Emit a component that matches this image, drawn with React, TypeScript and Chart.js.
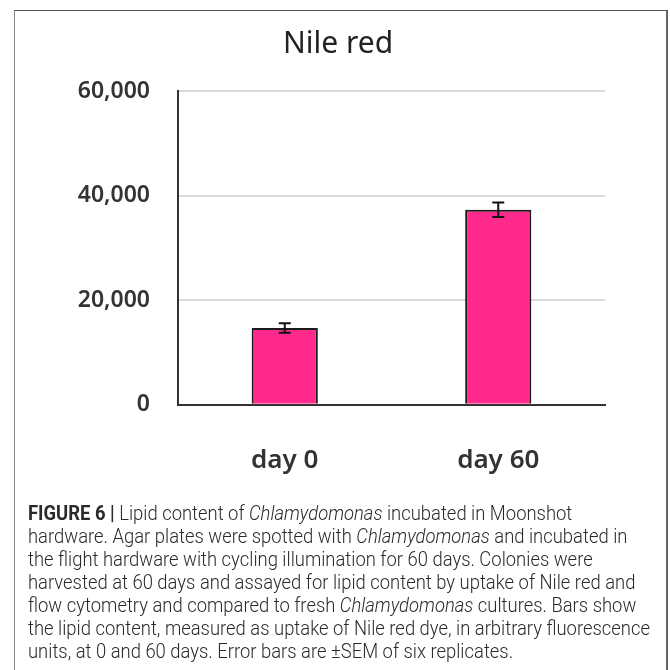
import React, { useEffect, useLayoutEffect, useRef, useState } from "react";
import { Chart, registerables } from "chart.js";

Chart.register(...registerables);

const categories = ["day 0", "day 60"];
const values = [14700, 37300];
const errors = [900, 1400];
const yTicks = [0, 20000, 40000, 60000];
const chartTitle = "Nile red";

const FONT = '"Noto Sans", "Open Sans", sans-serif';
const CAPTION_FONT = '"Liberation Sans Narrow", "Roboto", "Liberation Sans", sans-serif';

const errorBarPlugin = {
  id: "errorBars",
  afterDatasetsDraw(chart: any) {
    const meta = chart.getDatasetMeta(0);
    const y = chart.scales.y;
    const ctx = chart.ctx;
    ctx.save();
    ctx.strokeStyle = "#111";
    ctx.lineWidth = 2;
    meta.data.forEach((bar: any, i: number) => {
      const x = bar.x;
      const top = y.getPixelForValue(values[i] + errors[i]);
      const bot = y.getPixelForValue(values[i] - errors[i]);
      const cap = 6;
      ctx.beginPath();
      ctx.moveTo(x, top);
      ctx.lineTo(x, bot);
      ctx.moveTo(x - cap, top);
      ctx.lineTo(x + cap, top);
      ctx.moveTo(x - cap, bot);
      ctx.lineTo(x + cap, bot);
      ctx.stroke();
    });
    ctx.restore();
  },
};

function ChartView() {
  const ref = useRef<HTMLCanvasElement | null>(null);
  useEffect(() => {
    if (!ref.current) return;
    const chart = new Chart(ref.current, {
      type: "bar",
      data: {
        labels: categories,
        datasets: [
          {
            data: values,
            backgroundColor: "#FF2A8C",
            borderColor: "#1a1a1a",
            borderWidth: 2,
            barPercentage: 0.31,
            categoryPercentage: 1,
          },
        ],
      },
      options: {
        animation: false,
        responsive: false,
        devicePixelRatio: 1,
        layout: { padding: { top: 10, right: 65, bottom: 0, left: 71 } },
        plugins: {
          legend: { display: false },
          tooltip: { enabled: false },
          title: {
            display: true,
            text: chartTitle,
            color: "#222",
            font: { family: FONT, size: 30, weight: "normal" },
            padding: { top: 16, bottom: 29 },
          },
        },
        scales: {
          x: {
            grid: { display: false, drawTicks: false },
            border: { display: true, color: "#333", width: 2 },
            ticks: {
              color: "#333",
              font: { family: FONT, size: 26, weight: "600" },
              padding: 40,
            },
          },
          y: {
            min: 0,
            max: 60000,
            afterBuildTicks: (scale: any) => {
              scale.ticks = yTicks.map((v) => ({ value: v }));
            },
            afterFit: (scale: any) => {
              scale.width = 107;
            },
            grid: {
              drawTicks: false,
              lineWidth: 2,
              color: (ctx: any) => (ctx.tick && ctx.tick.value === 0 ? "rgba(0,0,0,0)" : "#dadada"),
            },
            border: { display: true, color: "#333", width: 2 },
            ticks: {
              color: "#333",
              font: { family: FONT, size: 23, weight: "600" },
              padding: 28,
              callback: (v: any) => Number(v).toLocaleString("en-US"),
            },
          },
        },
      },
      plugins: [errorBarPlugin],
    } as any);
    return () => chart.destroy();
  }, []);
  return (
    <canvas
      ref={ref}
      width={670}
      height={516}
      style={{ position: "absolute", left: 0, top: 0, width: 670, height: 516 }}
    />
  );
}

function Caption() {
  const lineRef = useRef<HTMLSpanElement | null>(null);
  const [k, setK] = useState(1);
  useLayoutEffect(() => {
    if (lineRef.current) {
      const w = lineRef.current.getBoundingClientRect().width;
      if (w > 0) setK(622 / w);
    }
  }, []);
  const I = (t: string) => <i>{t}</i>;
  return (
    <div
      style={{
        position: "absolute",
        left: 28,
        top: 502,
        fontFamily: CAPTION_FONT,
        fontSize: 20,
        fontWeight: 300,
        lineHeight: "23px",
        color: "#2a2a2a",
        whiteSpace: "nowrap",
        transform: `scaleX(${k})`,
        transformOrigin: "left top",
      }}
    >
      <div>
        <b style={{ fontWeight: 700 }}>FIGURE 6 |</b> Lipid content of {I("Chlamydomonas")} incubated in Moonshot
      </div>
      <div>
        hardware. Agar plates were spotted with {I("Chlamydomonas")} and incubated in
      </div>
      <div>the flight hardware with cycling illumination for 60 days. Colonies were</div>
      <div>harvested at 60 days and assayed for lipid content by uptake of Nile red and</div>
      <div>
        flow cytometry and compared to fresh {I("Chlamydomonas")} cultures. Bars show
      </div>
      <div>
        <span ref={lineRef} style={{ display: "inline-block" }}>
          the lipid content, measured as uptake of Nile red dye, in arbitrary fluorescence
        </span>
      </div>
      <div>units, at 0 and 60 days. Error bars are ±SEM of six replicates.</div>
    </div>
  );
}

export default function App() {
  return (
    <div
      style={{
        position: "fixed",
        left: 0,
        top: 0,
        width: 670,
        height: 670,
        overflow: "hidden",
        background: "#fff",
      }}
    >
      <div
        style={{
          position: "absolute",
          left: 14,
          top: 10,
          width: 651,
          height: 700,
          borderTop: "1.5px solid #555",
          borderLeft: "1px solid #888",
          borderRight: "2px solid #666",
        }}
      />
      <ChartView />
      <Caption />
    </div>
  );
}
